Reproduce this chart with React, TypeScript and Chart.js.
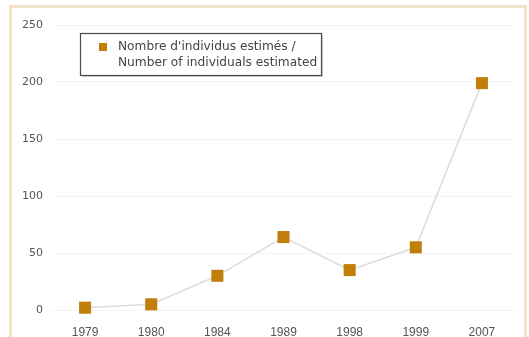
import React, { useEffect, useRef } from "react";
import { Chart, registerables } from "chart.js";

Chart.register(...registerables);

const years = ["1979", "1980", "1984", "1989", "1998", "1999", "2007"];
const estimated = [2, 5, 30, 64, 35, 55, 199];
const legendLines = ["Nombre d'individus estimés /", "Number of individuals estimated"];

const MARKER = "#c17e0b";
const FONT = "'DejaVu Sans', Verdana, sans-serif";
const NARROW = "'Liberation Sans Narrow', 'Liberation Sans', Arial, sans-serif";

// Boxed two-line legend drawn inside the plot area
const boxLegend = {
  id: "boxLegend",
  afterDraw(chart: any) {
    const ctx = chart.ctx as CanvasRenderingContext2D;
    const x = 80, y = 33, w = 241, h = 42;
    ctx.save();
    ctx.fillStyle = "rgba(0,0,0,0.18)";
    ctx.fillRect(x + 2, y + 2, w, h);
    ctx.fillStyle = "#ffffff";
    ctx.fillRect(x, y, w, h);
    ctx.strokeStyle = "#4a4a4a";
    ctx.lineWidth = 1.2;
    ctx.strokeRect(x + 0.5, y + 0.5, w, h);
    ctx.fillStyle = MARKER;
    ctx.fillRect(99, 43, 8, 8);
    ctx.fillStyle = "#444444";
    ctx.font = `12.2px ${FONT}`;
    ctx.textBaseline = "middle";
    ctx.fillText(legendLines[0], 118, 47);
    ctx.fillText(legendLines[1], 118, 63);
    ctx.restore();
  },
};

export default function App() {
  const ref = useRef<HTMLCanvasElement>(null);

  useEffect(() => {
    if (!ref.current) return;
    const chart = new Chart(ref.current, {
      type: "line",
      data: {
        labels: years,
        datasets: [
          {
            data: estimated,
            borderColor: "#dcdcdc",
            borderWidth: 1.5,
            pointStyle: "rect",
            pointRadius: 8.5,
            pointBackgroundColor: MARKER,
            pointBorderColor: MARKER,
            pointBorderWidth: 0,
            tension: 0,
            clip: false,
          },
        ],
      },
      plugins: [boxLegend],
      options: {
        animation: false,
        responsive: false,
        devicePixelRatio: 1,
        layout: { padding: { left: 0, right: 14, top: 25, bottom: 0 } },
        plugins: { legend: { display: false }, tooltip: { enabled: false } },
        scales: {
          x: {
            offset: true,
            grid: { display: false, drawTicks: false },
            border: { color: "#f2f2f2" },
            ticks: { color: "#555", padding: 15, font: { family: NARROW, size: 12 } },
            afterFit(scale: any) {
              scale.height = 27;
            },
          },
          y: {
            min: 0,
            max: 250,
            grid: { color: "#f3f3f3", drawTicks: false },
            border: { display: false },
            ticks: {
              stepSize: 50,
              color: "#555",
              padding: 9,
              font: { family: FONT, size: 11 },
            },
            afterFit(scale: any) {
              scale.width = 52;
            },
          },
        },
      },
    });
    return () => chart.destroy();
  }, []);

  return (
    <div style={{ position: "fixed", left: 0, top: 0, width: 529, height: 337, background: "#fff" }}>
      <div
        style={{
          position: "absolute",
          left: 9,
          top: 5,
          width: 512,
          height: 340,
          border: "3px solid #f3e4c8",
          borderBottom: "none",
        }}
      />
      <canvas ref={ref} width={529} height={337} style={{ position: "absolute", left: 0, top: 0 }} />
    </div>
  );
}
